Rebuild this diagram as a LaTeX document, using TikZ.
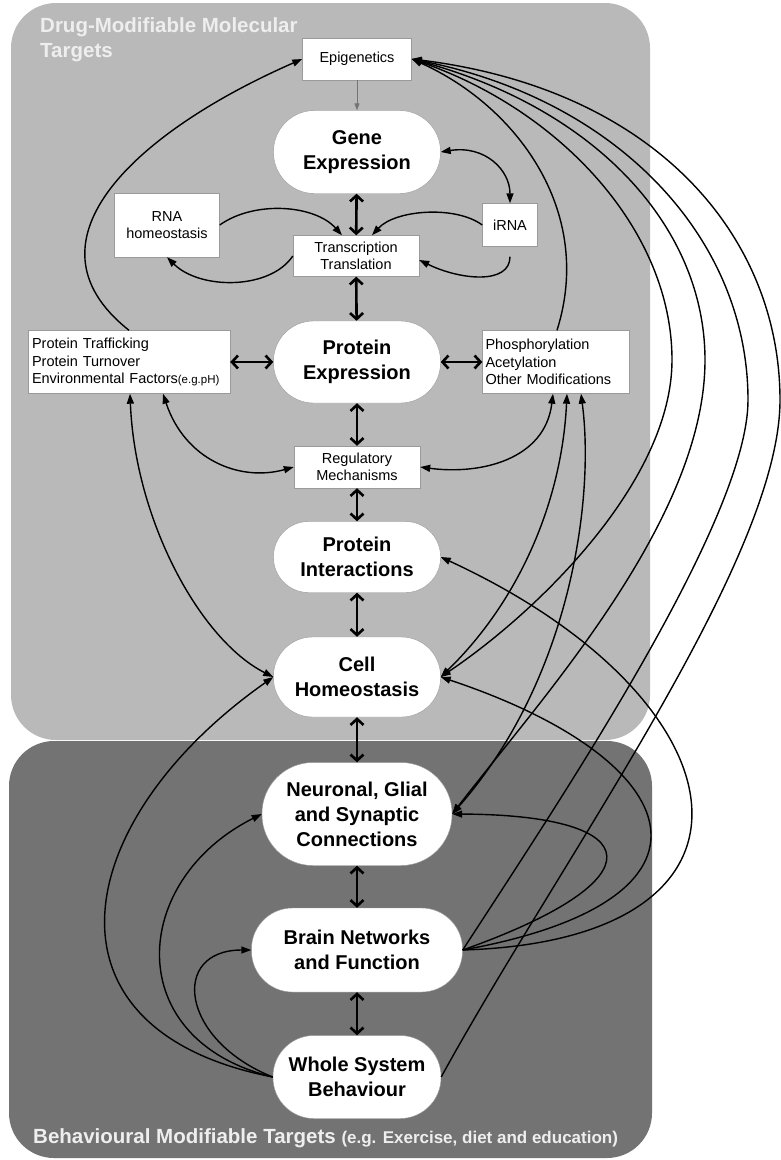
\documentclass[tikz,border=0pt]{standalone}
\usepackage{fontspec}
\setmainfont{Liberation Sans}
\usetikzlibrary{arrows.meta}

\definecolor{drugpanel}{HTML}{B9B9B9}
\definecolor{behpanel}{HTML}{737373}
\definecolor{titlewhite}{HTML}{EEEEEE}
\definecolor{framegray}{HTML}{9A9A9A}

\tikzset{
  stage/.style n args={3}{draw=framegray, fill=white, align=center, inner sep=0pt,
    minimum width=#1pt, minimum height=#2pt, rounded corners=#3pt,
    font=\fontsize{20}{25}\selectfont\bfseries},
  factor/.style={draw=framegray, fill=white, align=center, inner sep=3pt,
    font=\fontsize{14.5}{17.5}\selectfont},
  paneltitle/.style={text=titlewhite, inner sep=0pt, font=\fontsize{20.5}{25}\selectfont\bfseries},
  twoway/.style={line width=2.6pt, {Straight Barb[length=6pt,width=13pt]}-{Straight Barb[length=6pt,width=13pt]}},
  oneway/.style={line width=1.4pt, -{Triangle[length=10pt,width=7pt]}},
  bothway/.style={line width=1.4pt, {Triangle[length=10pt,width=7pt]}-{Triangle[length=10pt,width=7pt]}},
  faint/.style={draw=black!55, line width=0.9pt, -{Triangle[length=7pt,width=5pt]}}
}

\begin{document}
\begin{tikzpicture}[x=1pt,y=-1pt]
    \useasboundingbox (0,0) rectangle (781,1160);

    % Draw the two target panels
    \fill[drugpanel, rounded corners=45pt] (11,3) rectangle (650,740);
    \fill[behpanel, rounded corners=45pt] (9,741) rectangle (652,1158);
    \node[paneltitle, anchor=north west, align=left] (drugtitle) at (40,17) {Drug-Modifiable Molecular\\Targets};
    \node[paneltitle, anchor=base west] (behtitle) at (33,1143) {Behavioural Modifiable Targets {\fontsize{17}{20}\selectfont(e.g. Exercise, diet and education)}};

    % Define the main levels down the middle
    \node[stage={167}{83}{41}] (gene) at (357,152) {Gene\\Expression};
    \node[stage={167}{82}{40}] (pexp) at (357,362) {Protein\\Expression};
    \node[stage={167}{71}{35}] (pint) at (357,557) {Protein\\Interactions};
    \node[stage={167}{80}{39}] (cell) at (357,677) {Cell\\Homeostasis};
    \node[stage={190}{103}{51}] (neur) at (357,814) {Neuronal, Glial\\and Synaptic\\Connections};
    \node[stage={211}{84}{41}] (brain) at (357,950) {Brain Networks\\and Function};
    \node[stage={168}{83}{41}] (whole) at (357,1077) {Whole System\\Behaviour};

    % Define the side factors
    \node[factor, minimum width=109pt, minimum height=42pt] (epi) at (357,59) {Epigenetics};
    \node[factor, minimum width=105pt, minimum height=64pt] (rnah) at (167,225) {RNA\\homeostasis};
    \node[factor, minimum width=55pt, minimum height=43pt] (irna) at (510,225) {iRNA};
    \node[factor, minimum width=126pt, minimum height=41pt] (tt) at (356,256) {Transcription\\Translation};
    \node[factor, align=left, inner xsep=4pt, text width=194pt, minimum height=63pt] (ptraf) at (129,362)
        {Protein Trafficking\\Protein Turnover\\Environmental Factors{\fontsize{11.5}{14}\selectfont(e.g.pH)}};
    \node[factor, align=left, inner xsep=3pt, text width=141pt, minimum height=63pt] (phos) at (556,362)
        {Phosphorylation\\Acetylation\\Other Modifications};
    \node[factor, minimum width=126pt, minimum height=42pt] (reg) at (357,467) {Regulatory\\Mechanisms};

    % Thick two-way arrows between neighbouring levels
    \draw[faint] (epi) -- (gene);
    \draw[twoway] (gene) -- (tt);
    \draw[twoway] (tt) -- (pexp);
    \draw[twoway] (pexp) -- (reg);
    \draw[twoway] (reg) -- (pint);
    \draw[twoway] (pint) -- (cell);
    \draw[twoway] (cell) -- (neur);
    \draw[twoway] (neur) -- (brain);
    \draw[twoway] (brain) -- (whole);
    \draw[twoway] (ptraf) -- (pexp);
    \draw[twoway] (pexp) -- (phos);

    % Draw the RNA loops round transcription
    \draw[bothway] (gene.east) .. controls (485,145) and (510,170) .. (irna.north);
    \draw[oneway] (rnah.east) .. controls (255,200) and (315,205) .. ([xshift=-14pt]tt.north);
    \draw[oneway] (irna.west) .. controls (455,205) and (395,210) .. ([xshift=16pt]tt.north);
    \draw[oneway] (tt.west) .. controls (270,290) and (200,290) .. (rnah.south);
    \draw[oneway] ([yshift=-10pt]irna.south) .. controls (510,285) and (460,280) .. ([yshift=-4pt]tt.east);

    % Protein trafficking links
    \draw[oneway] (ptraf.north) .. controls (15,240) and (140,130) .. (epi.west);
    \draw[bothway] ([xshift=34pt]ptraf.south) .. controls (185,460) and (240,482) .. (reg.west);
    \draw[bothway] ([xshift=1pt]ptraf.south) .. controls (135,520) and (200,640) .. (cell.west);

    % Modification links
    \draw[bothway] ([xshift=-3pt]phos.south) .. controls (545,460) and (480,475) .. (reg.east);
    \draw[oneway] ([xshift=1pt]phos.north) .. controls (595,210) and (515,105) .. (epi.east);
    \draw[bothway] ([xshift=11pt]phos.south) .. controls (562,500) and (520,600) .. (cell.east);
    \draw[bothway] ([xshift=25pt]phos.south) .. controls (595,500) and (570,680) .. (neur.east);

    % Long links back to epigenetics
    \draw[bothway] (cell.east) .. controls (540,610) and (672,480) .. (672,360) .. controls (672,230) and (560,110) .. (epi.east);
    \draw[bothway] (neur.east) .. controls (540,700) and (705,520) .. (705,360) .. controls (705,230) and (600,110) .. (epi.east);
    \draw[oneway] (brain.east) .. controls (560,800) and (748,520) .. (748,400) .. controls (748,240) and (620,100) .. (epi.east);
    \draw[oneway] (whole.east) .. controls (560,860) and (780,560) .. (780,400) .. controls (780,240) and (660,90) .. (epi.east);

    % Loops from brain networks
    \draw[oneway] (brain.east) .. controls (660,880) and (650,815) .. (neur.east);
    \draw[oneway] (brain.east) .. controls (740,900) and (690,760) .. (cell.east);
    \draw[oneway] (brain.east) .. controls (790,940) and (750,700) .. (pint.east);

    % Links from whole system behaviour
    \draw[oneway] (whole.west) .. controls (30,1030) and (70,820) .. (cell.west);
    \draw[oneway] (whole.west) .. controls (120,1040) and (130,880) .. (neur.west);
    \draw[oneway] (whole.west) .. controls (180,1040) and (170,950) .. (brain.west);

\end{tikzpicture}
\end{document}
